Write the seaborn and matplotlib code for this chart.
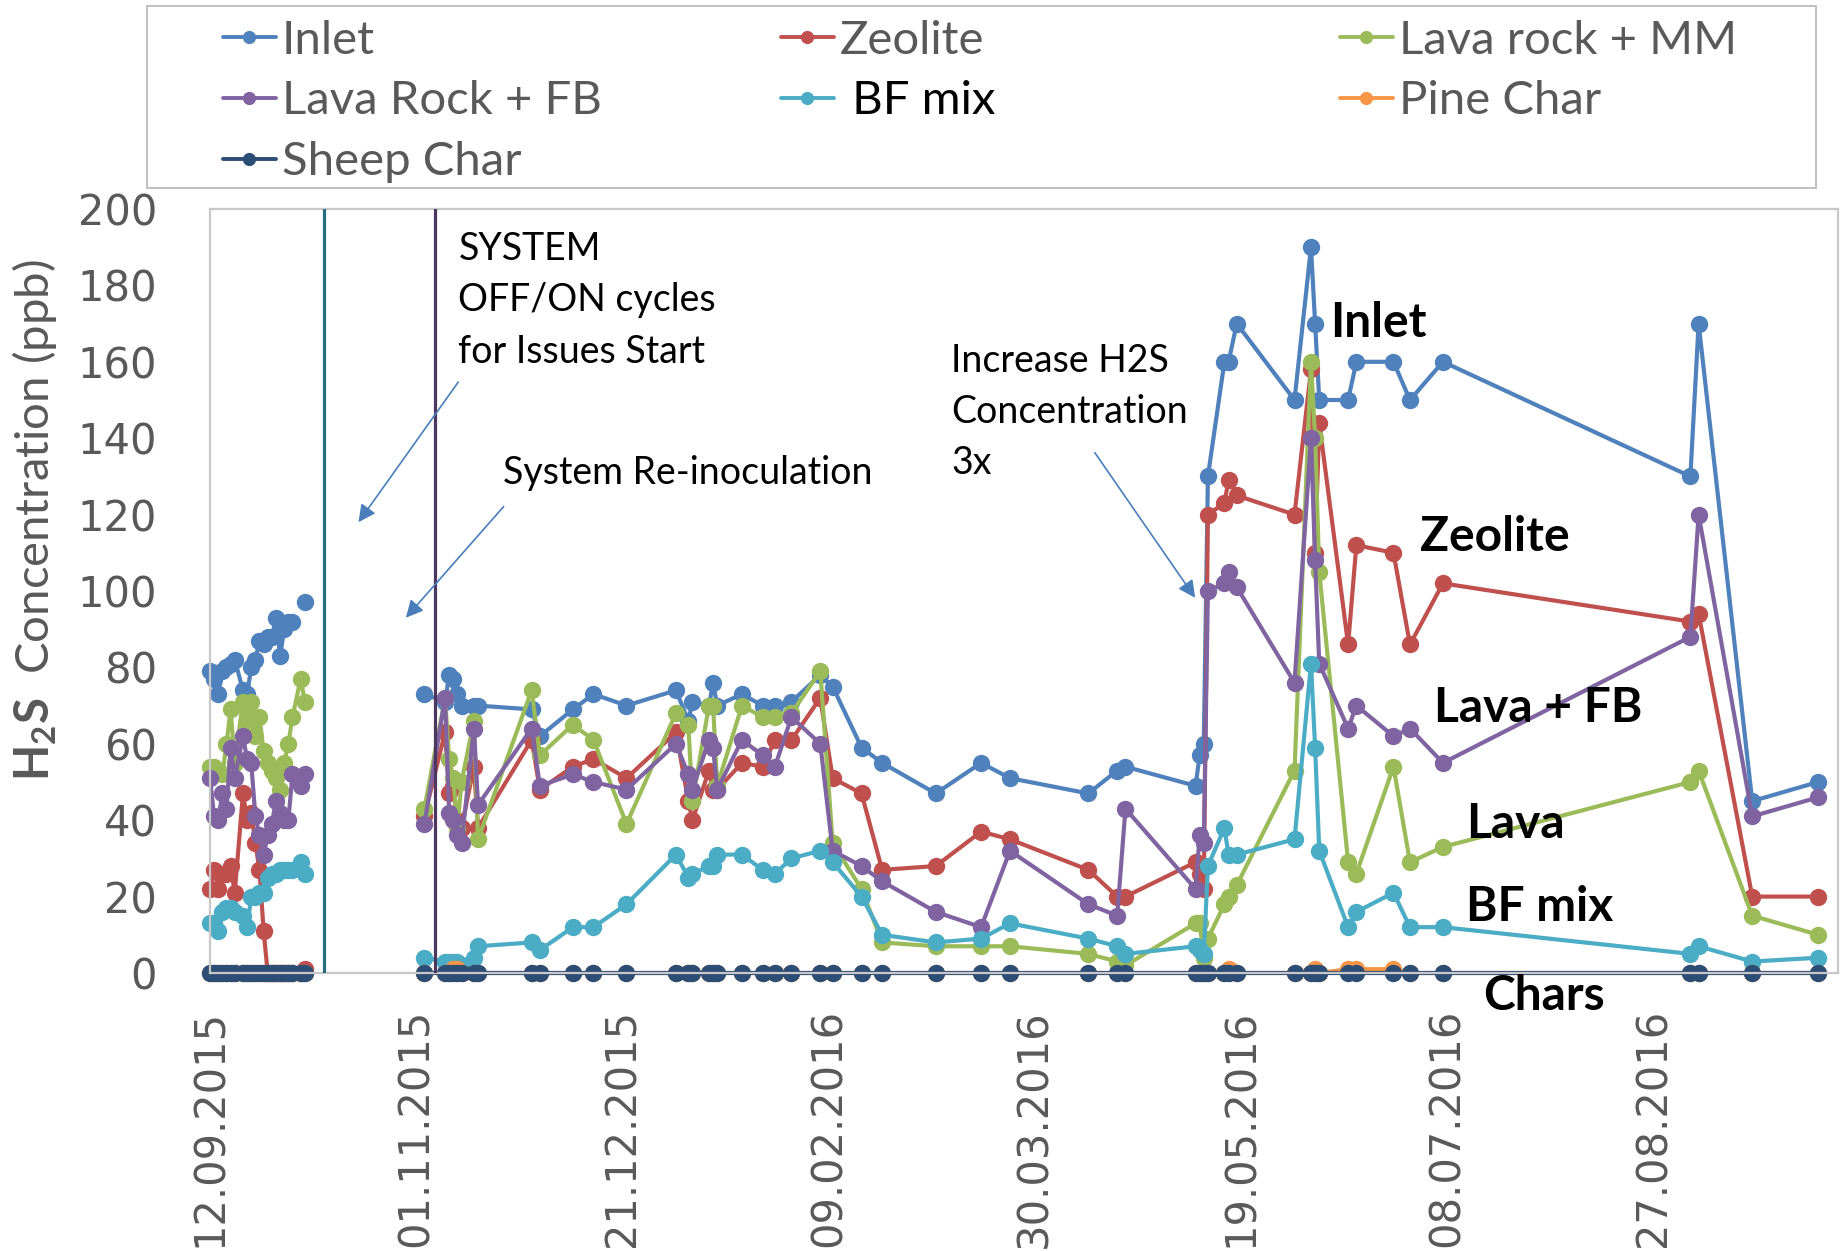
import numpy as np
import pandas as pd
import matplotlib
matplotlib.use("Agg")
import matplotlib.pyplot as plt
import matplotlib.dates as mdates
from matplotlib.lines import Line2D
from matplotlib.patches import Rectangle
import seaborn as sns

# ---------------- data ----------------
dates = [
    # Sept/Oct 2015 cluster
    '12.09.2015', '13.09.2015', '14.09.2015', '15.09.2015', '16.09.2015', '17.09.2015', '18.09.2015',
    '20.09.2015', '21.09.2015', '22.09.2015', '23.09.2015', '24.09.2015', '25.09.2015', '26.09.2015',
    '27.09.2015', '28.09.2015', '29.09.2015', '30.09.2015', '01.10.2015', '02.10.2015', '04.10.2015',
    '05.10.2015',
    # after re-inoculation
    '03.11.2015', '08.11.2015', '09.11.2015', '10.11.2015', '11.11.2015', '12.11.2015', '15.11.2015',
    '16.11.2015', '29.11.2015', '01.12.2015', '09.12.2015', '14.12.2015', '22.12.2015',
    '03.01.2016', '06.01.2016', '07.01.2016', '11.01.2016', '12.01.2016', '13.01.2016', '19.01.2016',
    '24.01.2016', '27.01.2016', '31.01.2016', '07.02.2016', '10.02.2016', '17.02.2016', '22.02.2016',
    '06.03.2016', '17.03.2016', '24.03.2016', '12.04.2016', '19.04.2016', '21.04.2016',
    '08.05.2016', '09.05.2016', '10.05.2016', '11.05.2016', '15.05.2016', '16.05.2016', '18.05.2016',
    '01.06.2016', '05.06.2016', '06.06.2016', '07.06.2016', '14.06.2016', '16.06.2016', '25.06.2016',
    '29.06.2016', '07.07.2016',
    '05.09.2016', '07.09.2016', '20.09.2016', '06.10.2016',
]
# measurement campaign (series are not joined across campaigns)
campaign = [0] * 22 + [1] * 53

inlet = [79, 77, 73, 79, 80, 81, 82, 74, 73, 80, 82, 87, 86, 88, 88, 93, 83, 90, 92, 92, np.nan, 97,
         73, 71, 78, 77, 73, 70, 70, 70, 69, 62, 69, 73, 70,
         74, 66, 71, 70, 76, 70, 73, 70, 70, 71, 78, 75, 59, 55,
         47, 55, 51, 47, 53, 54,
         49, 57, 60, 130, 160, 160, 170, 150, 190, 170, 150, 150, 160, 160, 150, 160,
         130, 170, 45, 50]
zeolite = [22, 27, 22, 26, 26, 28, 21, 47, 40, 42, 34, 27, 11, 0, 0, 0, 0, 0, 0, 0, 0, 1,
           41, 63, 47, 49, 40, 38, 54, 38, 61, 48, 54, 56, 51,
           63, 45, 40, 53, 48, 48, 55, 54, 61, 61, 72, 51, 47, 27,
           28, 37, 35, 27, 20, 20,
           29, 26, 22, 120, 123, 129, 125, 120, 158, 110, 144, 86, 112, 110, 86, 102,
           92, 94, 20, 20]
lava_mm = [54, 54, 53, 52, 60, 69, 55, 71, 66, 71, 62, 67, 58, 55, 53, 51, 48, 55, 60, 67, 77, 71,
           43, 72, 56, 51, 38, 50, 66, 35, 74, 57, 65, 61, 39,
           68, 65, 45, 70, 70, 49, 70, 67, 67, 68, 79, 34, 22, 8,
           7, 7, 7, 5, 3, 2,
           13, 13, 4, 9, 18, 20, 23, 53, 160, 140, 105, 29, 26, 54, 29, 33,
           50, 53, 15, 10]
lava_fb = [51, 41, 40, 47, 43, 59, 51, 62, 56, 55, 41, 36, 31, 36, 39, 45, 42, 40, 40, 52, 49, 52,
           39, 72, 42, 40, 36, 34, 64, 44, 64, 49, 52, 50, 48,
           60, 52, 48, 61, 59, 48, 61, 57, 54, 67, 60, 32, 28, 24,
           16, 12, 32, 18, 15, 43,
           22, 36, 34, 100, 102, 105, 101, 76, 140, 108, 81, 64, 70, 62, 64, 55,
           88, 120, 41, 46]
bf_mix = [13, 13, 11, 16, 17, 17, 16, 15, 12, 20, 20, 21, 21, 25, 26, 26, 27, 27, 27, 27, 29, 26,
          4, 3, 3, 3, 3, 2, 4, 7, 8, 6, 12, 12, 18,
          31, 25, 26, 28, 28, 31, 31, 27, 26, 30, 32, 29, 20, 10,
          8, 9, 13, 9, 7, 5,
          7, 6, 5, 28, 38, 31, 31, 35, 81, 59, 32, 12, 16, 21, 12, 12,
          5, 7, 3, 4]
pine_char = [0] * 22 + [0, 0, 0, 1, 1, 0, 0, 0, 0, 0, 0, 0, 0,
                        0, 0, 0, 0, 0, 0, 0, 0, 0, 0, 0, 0, 0, 0,
                        0, 0, 0, 0, 0, 0,
                        0, 0, 0, 0, 0, 1, 0, 0, 0, 1, 0, 1, 1, 1, 0, 0,
                        0, 0, 0, 0]
sheep_char = [0] * 75

series_names = ['Inlet', 'Zeolite', 'Lava rock + MM', 'Lava Rock + FB', 'BF mix', 'Pine Char', 'Sheep Char']
legend_labels = ['Inlet', 'Zeolite', 'Lava rock + MM', 'Lava Rock + FB', ' BF mix', 'Pine Char', 'Sheep Char']
colors = ['#4F81BD', '#C0504D', '#9BBB59', '#8064A2', '#4BACC6', '#F79646', '#2C4D75']

x_tick_labels = ['12.09.2015', '01.11.2015', '21.12.2015', '09.02.2016',
                 '30.03.2016', '19.05.2016', '08.07.2016', '27.08.2016']
y_ticks = [0, 20, 40, 60, 80, 100, 120, 140, 160, 180, 200]

# ---------------- build long table ----------------
date_index = pd.to_datetime(dates, format='%d.%m.%Y')
frames = []
for name, vals in zip(series_names, [inlet, zeolite, lava_mm, lava_fb, bf_mix, pine_char, sheep_char]):
    v = np.array(vals, dtype=float)
    unit = np.array(campaign) * 100 + np.cumsum(np.isnan(v))
    frames.append(pd.DataFrame({'date': date_index, 'value': v, 'series': name, 'unit': unit}))
long = pd.concat(frames, ignore_index=True)

# ---------------- figure ----------------
sns.set_style('white')
plt.rcParams['font.family'] = ['DejaVu Sans']
plt.rcParams['mathtext.fontset'] = 'custom'
plt.rcParams['mathtext.rm'] = 'Lato'
plt.rcParams['mathtext.bf'] = 'Lato:bold'
plt.rcParams['mathtext.it'] = 'Lato:italic'

W, H = 1843, 1251
fig = plt.figure(figsize=(W / 100, H / 100), dpi=100)
ax = fig.add_axes([210 / W, 1 - 973 / H, (1838 - 210) / W, (973 - 209) / H])

sns.lineplot(data=long, x='date', y='value', hue='series', units='unit', estimator=None,
             hue_order=series_names, palette=colors, marker='o', markersize=12.5,
             markeredgewidth=0, linewidth=3.0, legend=False, ax=ax, clip_on=False)

ax.set_ylim(0, 200)
ax.set_yticks(y_ticks)
x0 = mdates.date2num(pd.Timestamp('2015-09-12'))
ax.set_xlim(x0, x0 + 394.8)
ax.set_xticks(mdates.date2num(pd.to_datetime(x_tick_labels, format='%d.%m.%Y')))
ax.set_xticklabels(x_tick_labels, rotation=90)
ax.set_xlabel('')
ax.set_ylabel('')
ax.tick_params(axis='both', length=0, labelsize=30, labelcolor='#595959')
ax.tick_params(axis='y', pad=38)
ax.tick_params(axis='x', pad=26)
for sp in ax.spines.values():
    sp.set_visible(True)
    sp.set_color('#C8C8C8')
    sp.set_linewidth(1.6)

# vertical event lines
ax.axvline(mdates.date2num(pd.Timestamp('2015-10-09 17:00')), color='#256E7E', lw=2.3, zorder=3)
ax.axvline(mdates.date2num(pd.Timestamp('2015-11-05 14:00')), color='#4B375F', lw=2.3, zorder=3)

def dn(s):
    return mdates.date2num(pd.Timestamp(s))

arrow_kw = dict(arrowstyle='-|>', color='#4A7EBB', lw=1.2, mutation_scale=26, shrinkA=0, shrinkB=0)
ax.annotate('', xy=(dn('2015-10-18'), 118), xytext=(dn('2015-11-11 05:00'), 154.7), arrowprops=arrow_kw)
ax.annotate('', xy=(dn('2015-10-29 12:00'), 93), xytext=(dn('2015-11-22 05:00'), 122.1), arrowprops=arrow_kw)
ax.annotate('', xy=(dn('2016-05-07 22:00'), 98.2), xytext=(dn('2016-04-13 14:00'), 136.2), arrowprops=arrow_kw)

note_kw = dict(family='Lato', fontsize=27, color='black', linespacing=1.53)
ax.text(dn('2015-11-11 05:00'), 194.3, 'SYSTEM\nOFF/ON cycles\nfor Issues Start', va='top', ha='left', **note_kw)
ax.text(dn('2015-11-22'), 127.9, 'System Re-inoculation', va='baseline', ha='left', **note_kw)
ax.text(dn('2016-03-09 17:00'), 165.0, 'Increase H2S\nConcentration\n3x', va='top', ha='left', **note_kw)

bold_kw = dict(family='Lato', fontweight='bold', fontsize=34.5, color='black', va='baseline', ha='left', clip_on=False)
ax.text(dn('2016-06-09 14:00'), 166.6, 'Inlet', **bold_kw)
ax.text(dn('2016-07-01 12:00'), 110.6, 'Zeolite', **bold_kw)
ax.text(dn('2016-07-04 22:00'), 65.8, 'Lava + FB', **bold_kw)
ax.text(dn('2016-07-12 14:00'), 35.4, 'Lava', **bold_kw)
ax.text(dn('2016-07-12 14:00'), 13.6, 'BF mix', **bold_kw)
ax.text(dn('2016-07-16 19:00'), -9.7, 'Chars', **bold_kw)

# y axis title
fig.text(34.5 / W, 1 - 520 / H, r'$\mathbf{H_2S}$  Concentration (ppb)', rotation=90,
         ha='center', va='center', family='Lato', fontsize=34, color='#595959')

# legend: three columns laid out row-wise like the original
handles = [Line2D([0], [0], color=c, lw=2.8, marker='o', markersize=9.5, markeredgewidth=0) for c in colors]
col_idx = [[0, 3, 6], [1, 4], [2, 5]]
col_x = [223, 781, 1340]
for xs, idxs in zip(col_x, col_idx):
    leg = fig.legend([handles[i] for i in idxs], [legend_labels[i] for i in idxs],
                     loc='upper left', bbox_to_anchor=(xs / W, 1 - 19.5 / H), frameon=False,
                     prop={'family': 'Lato', 'size': 34}, handlelength=1.12, handletextpad=0.13,
                     labelspacing=0.40, borderpad=0, borderaxespad=0)
    for t in leg.get_texts():
        t.set_color('black' if t.get_text() == ' BF mix' else '#595959')
fig.add_artist(Rectangle((147 / W, 1 - 188 / H), (1816 - 147) / W, (188 - 6) / H,
                         transform=fig.transFigure, fill=False, edgecolor='#C0C0C0', lw=1.4))

fig.savefig('out.png', dpi=100)
